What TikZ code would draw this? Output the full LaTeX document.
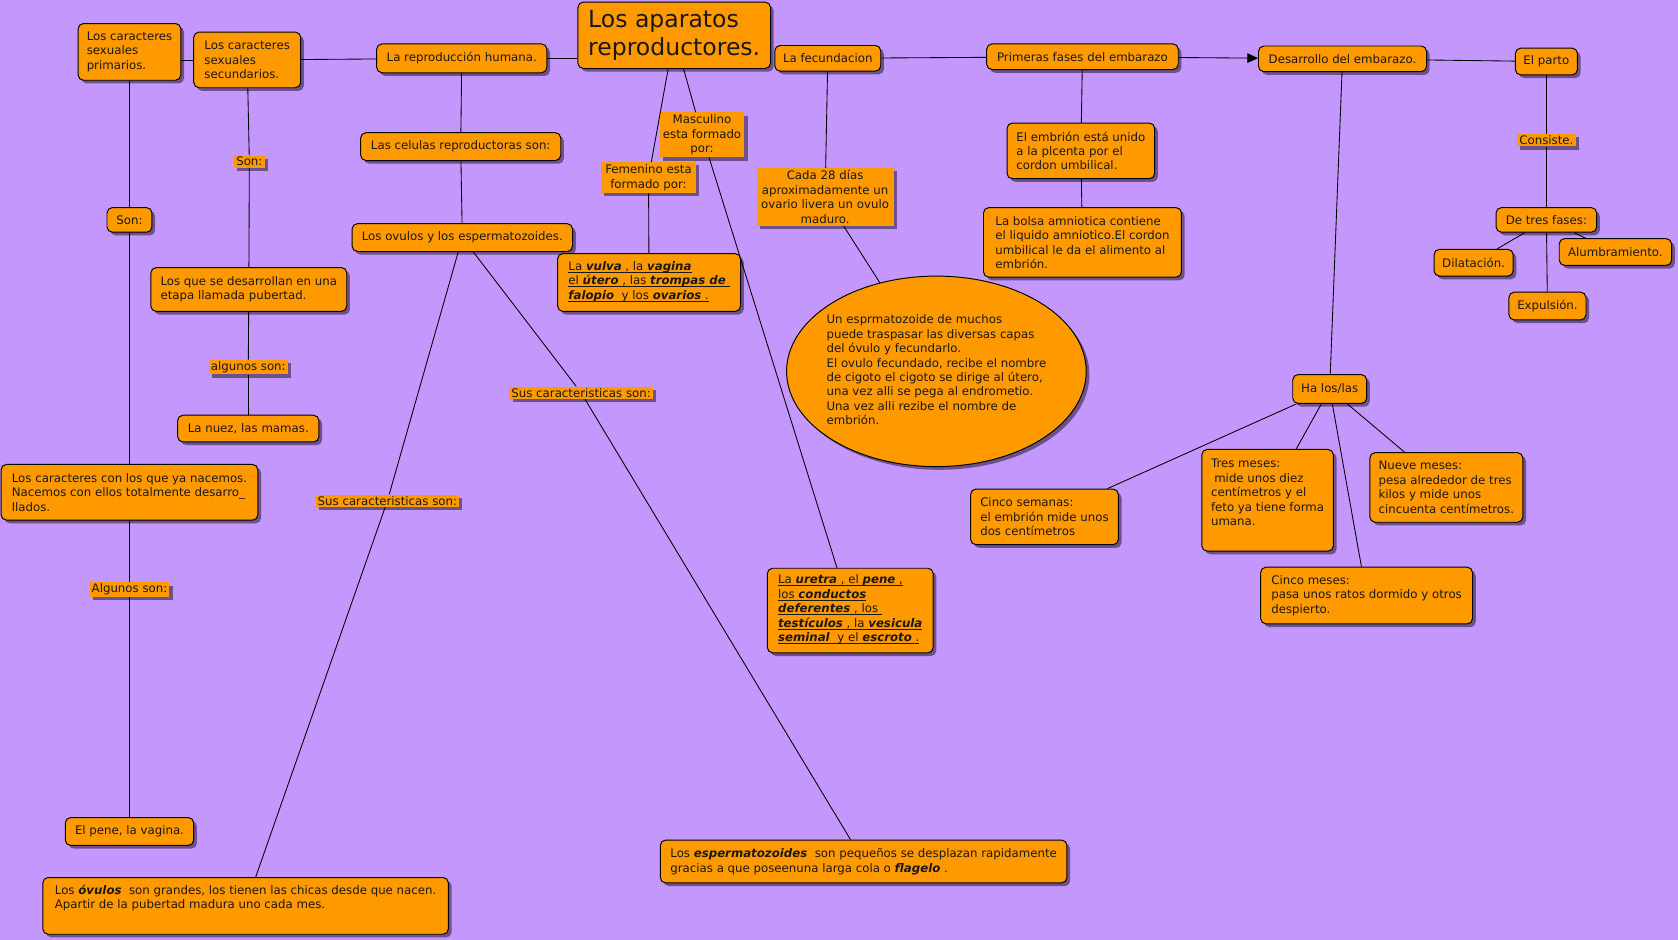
\documentclass[tikz,border=0pt]{standalone}
\usepackage{fontspec}
\setmainfont{DejaVu Sans}
\usetikzlibrary{shapes.geometric,shadows,arrows.meta}
\definecolor{bg}{HTML}{C497FC}
\definecolor{orng}{HTML}{FF9900}
\newcommand{\bi}[1]{\textbf{\textit{#1}}}
\newcommand{\ulin}[1]{\underline{\smash{#1}\vphantom{a}}}
\begin{document}
\begin{tikzpicture}[x=1pt,y=-1pt,
  font=\fontsize{11}{13.5}\selectfont,
  shad/.style={drop shadow={shadow xshift=3pt,shadow yshift=-3pt,opacity=0.45,fill=black}},
  box/.style={shad,draw=black,line width=0.9pt,rounded corners=5pt,fill=orng,align=left,inner xsep=7pt,inner ysep=3pt,text=black!90},
  lbl/.style={shad,fill=orng,align=center,inner xsep=2pt,inner ysep=1.5pt,text=black!90},
  con/.style={draw=black,line width=0.8pt},
]
\fill[bg] (0,0) rectangle (1568,878);
\useasboundingbox (0,0) rectangle (1568,878);

% boxes
\node[box,minimum width=96pt,minimum height=53pt] (prim) at (121,48.5) {Los caracteres\\sexuales\\primarios.};
\node[box,minimum width=100pt,minimum height=52pt] (sec) at (231,56) {Los caracteres\\sexuales\\secundarios.};
\node[box,minimum width=159pt,minimum height=27pt] (repro) at (431.5,54.5) {La reproducción humana.};
\node[box,minimum width=180pt,minimum height=62pt,inner xsep=6pt,font=\fontsize{22}{27}\selectfont] (title) at (630,33) {Los aparatos\\reproductores.};
\node[box,minimum width=99pt,minimum height=24pt] (fecund) at (773.5,54.5) {La fecundacion};
\node[box,minimum width=179pt,minimum height=24pt] (primeras) at (1011.5,53) {Primeras fases del embarazo};
\node[box,minimum width=157pt,minimum height=24pt] (desarrollo) at (1254.5,55) {Desarrollo del embarazo.};
\node[box,minimum width=58pt,minimum height=25pt] (parto) at (1445,57.5) {El parto};
\node[box,minimum width=187pt,minimum height=26pt] (celulas) at (430.5,137) {Las celulas reproductoras son:};
\node[box,minimum width=42pt,minimum height=23pt] (sonB) at (121,205.5) {Son:};
\node[box,minimum width=206pt,minimum height=26pt] (ovulos) at (432,222) {Los ovulos y los espermatozoides.};
\node[box,minimum width=138pt,minimum height=52pt] (embrion) at (1010,141) {El embrión está unido\\a la plcenta por el\\cordon umbilical.};
\node[box,minimum width=185pt,minimum height=65pt] (bolsa) at (1011.5,226.5) {La bolsa amniotica contiene\\el liquido amniotico.El cordon\\umbilical le da el alimento al\\embrión.};
\node[box,minimum width=94pt,minimum height=23pt] (tres) at (1445,205.5) {De tres fases:};
\node[box,minimum width=74pt,minimum height=25pt] (dil) at (1377,245.5) {Dilatación.};
\node[box,minimum width=105pt,minimum height=25pt] (alum) at (1509.5,235.5) {Alumbramiento.};
\node[box,minimum width=72pt,minimum height=26pt] (expul) at (1446,286) {Expulsión.};
\node[box,minimum width=183pt,minimum height=41pt] (desarr) at (232.5,270.5) {Los que se desarrollan en una\\etapa llamada pubertad.};
\node[box,minimum width=171pt,minimum height=54pt] (vulva) at (606.5,264) {\ulin{La \bi{vulva} , la \bi{vagina}}\\\ulin{el \bi{útero} , las \bi{trompas de} }\\\ulin{\bi{falopio}\ \ y los \bi{ovarios} .}};
\node[shad,ellipse,draw=black,line width=0.9pt,fill=orng,minimum width=280pt,minimum height=178pt,inner sep=0pt,text=black!90] (ell) at (875,347) {\makebox[0pt][c]{\begin{tabular}{@{}l@{}}Un esprmatozoide de muchos\\puede traspasar las diversas capas\\del óvulo y fecundarlo.\\El ovulo fecundado, recibe el nombre\\de cigoto el cigoto se dirige al útero,\\una vez alli se pega al endrometio.\\Una vez alli rezibe el nombre de\\embrión.\end{tabular}}};
\node[box,minimum width=69pt,minimum height=27pt] (ha) at (1242.5,363.5) {Ha los/las};
\node[box,minimum width=132pt,minimum height=25pt] (nuez) at (232,400.5) {La nuez, las mamas.};
\node[box,minimum width=240pt,minimum height=52pt] (nacemos) at (121,460) {Los caracteres con los que ya nacemos.\\Nacemos con ellos totalmente desarro\_\\llados.};
\node[box,minimum width=138pt,minimum height=52pt] (csem) at (976,483) {Cinco semanas:\\el embrión mide unos\\dos centímetros};
\node[box,minimum width=123pt,minimum height=95pt] (tmes) at (1184.5,467.5) {Tres meses:\\\hspace*{3pt}mide unos diez\\centímetros y el\\feto ya tiene forma\\umana.\rule[-15pt]{0pt}{15pt}};
\node[box,minimum width=143pt,minimum height=65pt] (nmes) at (1351.5,455.5) {Nueve meses:\\pesa alrededor de tres\\kilos y mide unos\\cincuenta centímetros.};
\node[box,minimum width=198pt,minimum height=53pt] (cmes) at (1277,556.5) {Cinco meses:\\pasa unos ratos dormido y otros\\despierto.};
\node[box,minimum width=155pt,minimum height=79pt] (uretra) at (794.5,570.5) {\ulin{La \bi{uretra} , el \bi{pene} ,}\\\ulin{los \bi{conductos}}\\\ulin{\bi{deferentes} , los }\\\ulin{\bi{testículos} , la \bi{vesicula}}\\\ulin{\bi{seminal}\ \ y el \bi{escroto} .}};
\node[box,minimum width=120pt,minimum height=26pt] (pene) at (121,777) {El pene, la vagina.};
\node[box,minimum width=379pt,minimum height=53pt] (ovdesc) at (229.5,846.5) {Los \bi{óvulos}\ \ son grandes, los tienen las chicas desde que nacen.\\Apartir de la pubertad madura uno cada mes.\rule[-17pt]{0pt}{17pt}};
\node[box,minimum width=380pt,minimum height=40pt] (espdesc) at (807,805) {Los \bi{espermatozoides}\ \ son pequeños se desplazan rapidamente\\gracias a que poseenuna larga cola o \bi{flagelo} .};

% linking labels
\node[lbl] (sonL) at (233,151) {Son:};
\node[lbl] (algL) at (232,343) {algunos son:};
\node[lbl] (AlgL) at (121,551) {Algunos son:};
\node[lbl,minimum width=79pt,minimum height=42pt] (masc) at (656,126) {Masculino\\esta formado\\por:};
\node[lbl,minimum width=89pt,minimum height=29pt] (fem) at (606,166) {Femenino esta\\formado por:};
\node[lbl,minimum width=128pt,minimum height=54pt] (cada) at (771,184) {Cada 28 días\\aproximadamente un\\ovario livera un ovulo\\maduro.};
\node[lbl] (consiste) at (1445,131) {Consiste.};
\node[lbl] (susR) at (543,367) {Sus caracteristicas son:};
\node[lbl] (susL) at (362,468) {Sus caracteristicas son:};

% connectors
\draw[con] (sec.west -| prim.east) -- (sec.west);
\draw[con] (sec) -- (repro);
\draw[con] (repro.east) -- (repro.east -| title.west);
\draw[con] (fecund) -- (primeras);
\draw[con,-{Triangle[length=10pt,width=9pt]}] (primeras) -- (desarrollo);
\draw[con] (desarrollo) -- (parto);
\draw[con] (prim) -- (sonB);
\draw[con] (sonB) -- (nacemos);
\draw[con] (nacemos) -- (AlgL);
\draw[con] (AlgL) -- (pene);
\draw[con] (sec) -- (sonL);
\draw[con] (sonL) -- (desarr);
\draw[con] (desarr) -- (algL);
\draw[con] (algL) -- (nuez);
\draw[con] (repro) -- (celulas);
\draw[con] (celulas) -- (ovulos);
\draw[con] (ovulos) -- (susL);
\draw[con] (susL) -- (ovdesc);
\draw[con] (ovulos) -- (susR);
\draw[con] (susR) -- (espdesc);
\draw[con] (title) -- (fem);
\draw[con] (fem) -- (vulva);
\draw[con] (title) -- (masc);
\draw[con] (masc) -- (uretra);
\draw[con] (fecund) -- (cada);
\draw[con] (cada) -- (ell);
\draw[con] (primeras) -- (embrion);
\draw[con] (embrion) -- (bolsa);
\draw[con] (desarrollo) -- (ha);
\draw[con] (ha) -- (csem);
\draw[con] (ha) -- (tmes);
\draw[con] (ha) -- (cmes);
\draw[con] (ha) -- (nmes);
\draw[con] (parto) -- (consiste);
\draw[con] (consiste) -- (tres);
\draw[con] (tres) -- (dil);
\draw[con] (tres) -- (expul);
\draw[con] (tres) -- (alum);
\end{tikzpicture}
\end{document}
